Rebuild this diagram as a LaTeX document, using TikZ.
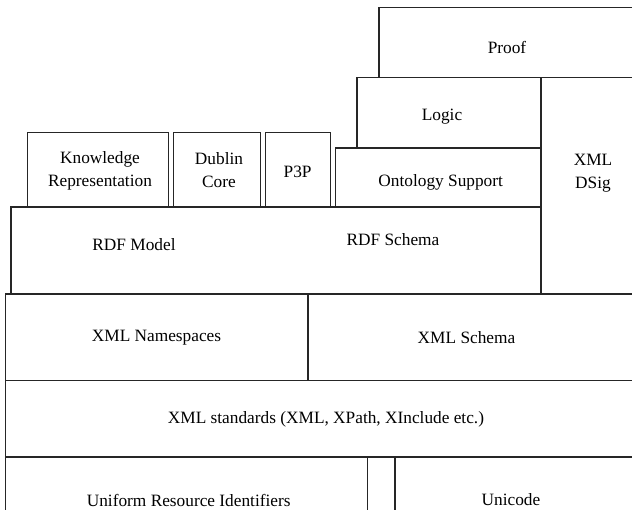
\documentclass[tikz,border=0pt]{standalone}
\usepackage{fontspec}
\setmainfont{Liberation Serif}

\begin{document}
\begin{tikzpicture}[
    x=1pt, y=-1pt,
    every node/.style={font=\fontsize{17.3}{23}\selectfont, align=center, inner sep=0pt},
    layer/.style={draw=black!85, line width=1.2pt}
]
\useasboundingbox (0,0) rectangle (632,510);
\clip (0,0) rectangle (632,510);

\draw[layer] (379,7.3) rectangle (640,77.7);
\draw[layer] (357,77.7) rectangle (541,148);
\draw[layer] (541,77.7) rectangle (640,294);
\draw[layer] (27.3,132.3) rectangle (168.3,207);
\draw[layer] (173.3,132.3) rectangle (260.7,207);
\draw[layer] (265.7,132.3) rectangle (330.3,207);
\draw[layer] (335.7,148) rectangle (541,207);
\draw[layer] (11,207) rectangle (541,294);
\draw[layer] (5.7,294) rectangle (308,380.5);
\draw[layer] (308,294) rectangle (640,380.5);
\draw[layer] (5.7,380.5) rectangle (640,457);
\draw[layer] (5.7,457) rectangle (367.7,520);
\draw[layer] (367.7,457) rectangle (395,520);
\draw[layer] (395,457) rectangle (640,520);

\node (proof) at (507,47) {Proof};
\node (logic) at (442,117) {Logic};
\node (dsig) at (593,173.5) {XML\\DSig};
\node (know) at (100,170.5) {Knowledge\\Representation};
\node (dublin) at (219,170.5) {Dublin\\Core};
\node (p3p) at (297.6,172) {P3P};
\node (onto) at (440.7,182) {Ontology Support};
\node (rdfmodel) at (134,245) {RDF Model};
\node (rdfschema) at (393,240) {RDF Schema};
\node (ns) at (156.5,338) {XML Namespaces};
\node (xsd) at (466.5,338) {XML Schema};
\node (xmlstd) at (326,419) {XML standards (XML, XPath, XInclude etc.)};
\node (uri) at (188.7,500) {Uniform Resource Identifiers};
\node (unicode) at (511,500) {Unicode};
\end{tikzpicture}
\end{document}
